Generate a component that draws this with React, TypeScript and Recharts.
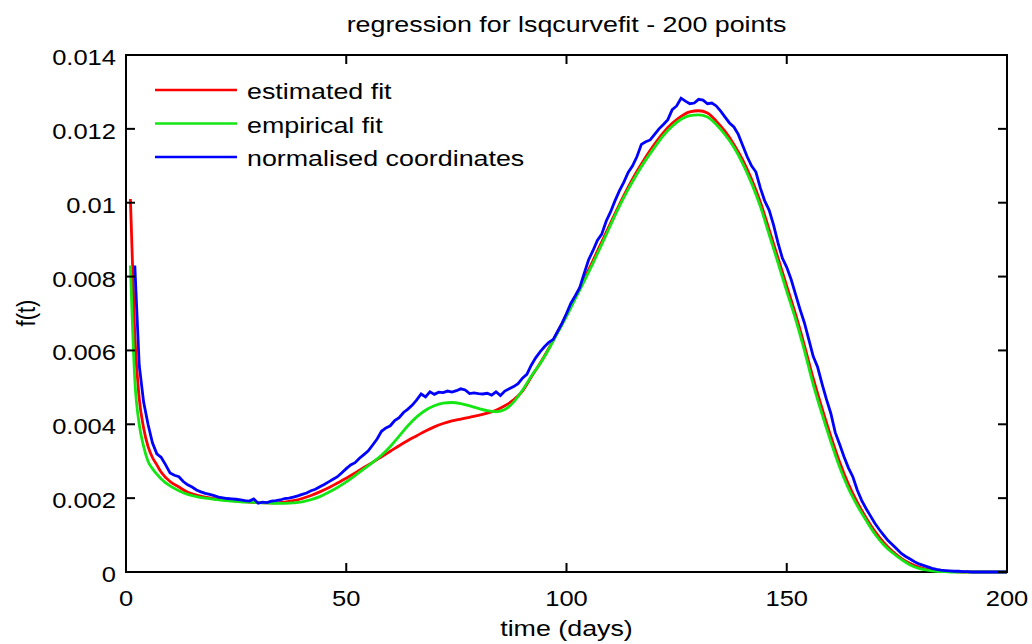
import { LineChart, Line, XAxis, YAxis, ReferenceArea, Legend } from "recharts";

const FONT = '"Liberation Sans", Arial, Helvetica, sans-serif';

// plot box in page pixels (used for mirrored ticks on top / right)
const PLOT_TOP = 55;
const PLOT_RIGHT = 1007;

const X_TICKS = [0, 50, 100, 150, 200];
const Y_TICKS = [0, 0.002, 0.004, 0.006, 0.008, 0.01, 0.012, 0.014];
const SERIES_NAMES = ["estimated fit", "empirical fit", "normalised coordinates"];

// days where the two fitted curves are sampled
const fitDays = [
  1, 2, 3, 4, 5, 6, 7, 8,
  10, 12, 14, 16, 18, 20, 22, 24, 26, 28,
  30, 32, 34, 36, 38, 40, 42, 44, 46, 48,
  50, 52, 54, 56, 58, 60, 62, 64, 66, 68,
  70, 72, 74, 76, 78, 80, 82, 84, 86, 88,
  90, 92, 94, 96, 98, 100, 102, 104, 106, 108,
  110, 112, 114, 116, 118, 120, 122, 124, 126, 128,
  130, 132, 134, 136, 138, 140, 142, 144, 146, 148,
  150, 152, 154, 156, 158, 160, 162, 164, 166, 168,
  170, 172, 174, 176, 178, 180, 182, 184, 186, 188,
  190, 192, 194, 196, 198, 200,
];

const estimatedFit = [
  0.0101, 0.0064, 0.0047, 0.0039, 0.0034, 0.0031, 0.0029, 0.0027,
  0.00245, 0.0023, 0.00216, 0.00208, 0.00203, 0.00199, 0.00196, 0.00193, 0.00191, 0.00189,
  0.00188, 0.00187, 0.00187, 0.00189, 0.00193, 0.00199, 0.00207, 0.00217, 0.00228, 0.00241,
  0.00254, 0.00268, 0.00283, 0.00297, 0.00312, 0.00327, 0.00342, 0.00356, 0.00369, 0.00382,
  0.00393, 0.00402, 0.00409, 0.00414, 0.00419, 0.00424, 0.0043, 0.00438, 0.0045, 0.00466,
  0.0049, 0.00528, 0.00565, 0.00606, 0.0065, 0.00697, 0.00745, 0.00793, 0.00843, 0.00894,
  0.00945, 0.00995, 0.01042, 0.01085, 0.01124, 0.01159, 0.0119, 0.01215, 0.01234, 0.01246,
  0.01249, 0.01243, 0.01221, 0.01193, 0.01158, 0.01116, 0.01064, 0.01002, 0.00927, 0.00851,
  0.00774, 0.00698, 0.00614, 0.00525, 0.00444, 0.00368, 0.00298, 0.00238, 0.00189, 0.00147,
  0.0011, 0.0008, 0.00056, 0.00037, 0.00023, 0.00013, 0.00007, 0.00004, 0.00002, 0.00001,
  0, 0, 0, 0, 0, 0,
];

const empiricalFit = [
  0.0083, 0.0052, 0.004, 0.0034, 0.003, 0.0028, 0.00265, 0.00252,
  0.00233, 0.0022, 0.0021, 0.00204, 0.002, 0.00197, 0.00194, 0.00192, 0.0019, 0.00189,
  0.00188, 0.00187, 0.00186, 0.00186, 0.00187, 0.0019, 0.00196, 0.00204, 0.00216, 0.00229,
  0.00244, 0.00261, 0.00279, 0.00297, 0.00316, 0.0034, 0.00368, 0.00396, 0.0042, 0.00438,
  0.0045, 0.00457, 0.00459, 0.00456, 0.0045, 0.00443, 0.00437, 0.00434, 0.0044, 0.0046,
  0.00492, 0.0053, 0.00564, 0.00604, 0.00648, 0.00692, 0.0074, 0.00787, 0.00836, 0.00887,
  0.00939, 0.0099, 0.01036, 0.01078, 0.01116, 0.0115, 0.01182, 0.01207, 0.01226, 0.01236,
  0.01238, 0.01232, 0.01212, 0.01184, 0.0115, 0.01106, 0.01053, 0.0099, 0.00914, 0.00838,
  0.0076, 0.00685, 0.006, 0.00508, 0.00428, 0.00353, 0.00284, 0.00226, 0.0018, 0.0014,
  0.00103, 0.00074, 0.00052, 0.00034, 0.00019, 0.0001, 0.00005, 0.00002, 0.00001, 0,
  0, 0, 0, 0, 0, 0,
];

// normalised coordinates, one value per day starting at day 2
const BLUE_START = 2;
const normalised = [
  0.0083, 0.0056, 0.0046, 0.004, 0.0035, 0.0032, 0.0031, 0.0029, 0.00268, 0.00262,
  0.00258, 0.00245, 0.00236, 0.0023, 0.00222, 0.00217, 0.00213, 0.0021, 0.00207, 0.00203,
  0.00201, 0.00199, 0.00198, 0.00197, 0.00195, 0.00193, 0.00192, 0.00198, 0.00186, 0.00189,
  0.00188, 0.00192, 0.00193, 0.00195, 0.00199, 0.002, 0.00203, 0.00206, 0.0021, 0.00214,
  0.0022, 0.00224, 0.00231, 0.00237, 0.00244, 0.00251, 0.00258, 0.00269, 0.0028, 0.0029,
  0.00296, 0.00308, 0.00318, 0.00328, 0.00344, 0.0036, 0.00381, 0.0039, 0.00396, 0.0041,
  0.00418, 0.00432, 0.00441, 0.00452, 0.00466, 0.00482, 0.00474, 0.00488, 0.00481, 0.00487,
  0.00486, 0.0049, 0.00487, 0.00491, 0.00496, 0.00493, 0.00483, 0.00485, 0.00483, 0.00482,
  0.00484, 0.00479, 0.00488, 0.00478, 0.0049, 0.00496, 0.00502, 0.0051, 0.00525, 0.00535,
  0.0056, 0.0058, 0.00596, 0.0061, 0.00622, 0.0063, 0.00652, 0.00674, 0.007, 0.00728,
  0.00748, 0.0077, 0.00808, 0.00845, 0.0087, 0.00898, 0.00915, 0.0095, 0.00975, 0.01005,
  0.01032, 0.01055, 0.01082, 0.011, 0.01125, 0.01158, 0.01165, 0.0117, 0.01185, 0.012,
  0.01212, 0.01225, 0.01252, 0.01262, 0.01283, 0.01275, 0.01268, 0.0127, 0.0128, 0.01278,
  0.01268, 0.0127, 0.01262, 0.01248, 0.01232, 0.01216, 0.01205, 0.01185, 0.01155, 0.01125,
  0.011, 0.01083, 0.0104, 0.01005, 0.0098, 0.0094, 0.00892, 0.0085, 0.00825, 0.00792,
  0.00752, 0.00712, 0.00675, 0.0063, 0.00584, 0.00555, 0.0051, 0.00468, 0.0043, 0.00378,
  0.00346, 0.00312, 0.00282, 0.00258, 0.00222, 0.00194, 0.00172, 0.00152, 0.00132, 0.00115,
  0.001, 0.00085, 0.00074, 0.00062, 0.0005, 0.00042, 0.00035, 0.00028, 0.00022, 0.00018,
  0.00014, 0.0001, 0.00007, 0.00005, 0.00004, 0.00003, 0.00002, 0.00002, 0.00001, 0.00001,
  0, 0, 0, 0, 0, 0, 0, 0, 0,
];

const redData = fitDays.map((t, i) => ({ t, v: estimatedFit[i] }));
const greenData = fitDays.map((t, i) => ({ t, v: empiricalFit[i] }));
const blueData = normalised.map((v, i) => ({ t: BLUE_START + i, v }));

const txt = { fontFamily: FONT, fontSize: 22, fill: "#000" };

const XTick = (props: any) => {
  const { x, y, payload } = props;
  return (
    <g>
      <line x1={x} x2={x} y1={y} y2={y - 9} stroke="#000" strokeWidth={2} />
      <line x1={x} x2={x} y1={PLOT_TOP} y2={PLOT_TOP + 9} stroke="#000" strokeWidth={2} />
      <g transform={`translate(${x} ${y + 34}) scale(1.16 1)`}>
        <text textAnchor="middle" {...txt}>{payload.value}</text>
      </g>
    </g>
  );
};

const YTick = (props: any) => {
  const { x, y, payload } = props;
  return (
    <g>
      <line x1={x} x2={x + 9} y1={y} y2={y} stroke="#000" strokeWidth={2} />
      <line x1={PLOT_RIGHT} x2={PLOT_RIGHT - 9} y1={y} y2={y} stroke="#000" strokeWidth={2} />
      <g transform={`translate(${x - 10} ${y + 10}) scale(1.16 1)`}>
        <text textAnchor="end" {...txt}>{String(payload.value)}</text>
      </g>
    </g>
  );
};

const LegendBox = ({ payload }: any) => {
  // keep the plotting order (legend sorts by name otherwise)
  const items = [...(payload || [])].sort(
    (a: any, b: any) => SERIES_NAMES.indexOf(a.value) - SERIES_NAMES.indexOf(b.value)
  );
  return (
    <svg width={400} height={110}>
      {items.map((p: any, i: number) => {
        const ly = 15 + i * 33.5;
        return (
          <g key={p.value}>
            <line x1={5} x2={87} y1={ly} y2={ly} stroke={p.color} strokeWidth={2.5} />
            <g transform={`translate(97 ${ly + 9}) scale(1.22 1)`}>
              <text {...txt}>{p.value}</text>
            </g>
          </g>
        );
      })}
    </svg>
  );
};

export default function App() {
  return (
    <div style={{ position: "absolute", left: 0, top: 0, width: 1032, height: 644, background: "#fff" }}>
      <LineChart width={1032} height={644} margin={{ top: 55, right: 25, left: 0, bottom: 0 }}>
        <XAxis
          type="number"
          dataKey="t"
          domain={[0, 200]}
          ticks={X_TICKS}
          height={72}
          tickSize={0}
          tickMargin={0}
          axisLine={false}
          tick={<XTick />}
        />
        <YAxis
          type="number"
          domain={[0, 0.014]}
          ticks={Y_TICKS}
          width={126}
          tickSize={0}
          tickMargin={0}
          axisLine={false}
          tick={<YTick />}
        />
        <ReferenceArea x1={0} x2={200} y1={0} y2={0.014} fill="none" stroke="#000" strokeWidth={2} />
        <Line data={redData} dataKey="v" name={SERIES_NAMES[0]} type="monotone" stroke="#ff0000"
          strokeWidth={2.8} dot={false} isAnimationActive={false} />
        <Line data={greenData} dataKey="v" name={SERIES_NAMES[1]} type="monotone" stroke="#14e614"
          strokeWidth={2.8} dot={false} isAnimationActive={false} />
        <Line data={blueData} dataKey="v" name={SERIES_NAMES[2]} type="linear" stroke="#0000ff"
          strokeWidth={2.8} dot={false} isAnimationActive={false} />
        <Legend
          layout="vertical"
          align="center"
          verticalAlign="middle"
          content={<LegendBox />}
          wrapperStyle={{ left: 150, top: 75, width: 400, height: 110 }}
        />
      </LineChart>
      <svg width={1032} height={644} style={{ position: "absolute", left: 0, top: 0, pointerEvents: "none" }}>
        <g transform="translate(566.5 32) scale(1.22 1)">
          <text textAnchor="middle" {...txt}>regression for lsqcurvefit - 200 points</text>
        </g>
        <g transform="translate(566.5 636) scale(1.22 1)">
          <text textAnchor="middle" {...txt}>time (days)</text>
        </g>
        <g transform="translate(35 313) scale(1.2 1) rotate(-90)">
          <text textAnchor="middle" {...txt}>f(t)</text>
        </g>
      </svg>
    </div>
  );
}
